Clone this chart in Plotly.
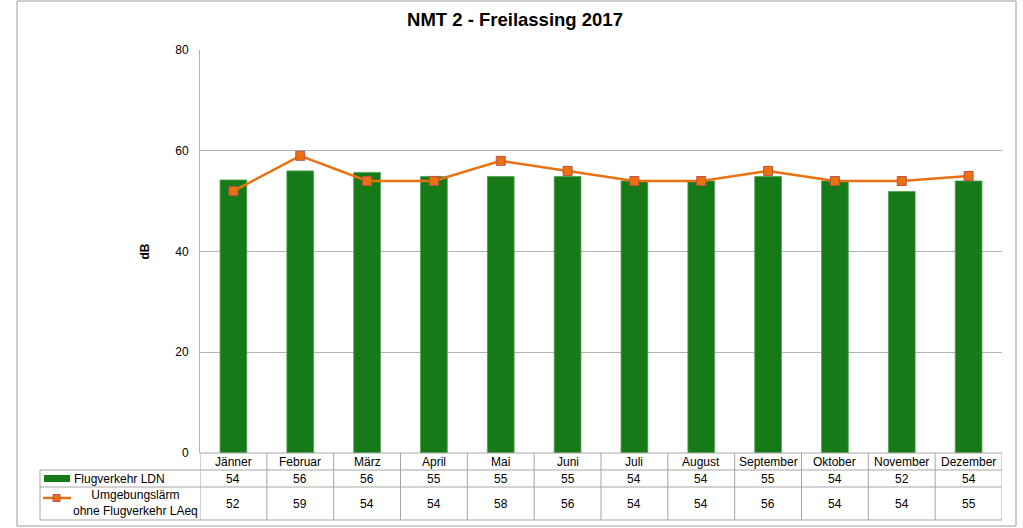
import plotly.graph_objects as go

months = ["Jänner", "Februar", "März", "April", "Mai", "Juni", "Juli",
          "August", "September", "Oktober", "November", "Dezember"]
flug_ldn = [54.2, 56.0, 55.7, 54.9, 54.9, 54.9, 54.0, 54.0, 54.9, 54.0, 51.9, 54.0]
flug_ldn_table = [54, 56, 56, 55, 55, 55, 54, 54, 55, 54, 52, 54]
umgebung = [52, 59, 54, 54, 58, 56, 54, 54, 56, 54, 54, 55]
y_ticks = [0, 20, 40, 60, 80]

W, H = 1023, 528
L, R, T, B = 200, 21, 50, 75
PW, PH = W - L - R, H - T - B

def px(x):
    return (x - L) / PW

def py(y):
    return (H - B - y) / PH

GREEN = "#157A17"
ORANGE = "#EA7110"
GRID = "#b3b3b3"
TBL = "#a6a6a6"
FONT = "Liberation Sans, Arial, sans-serif"

fig = go.Figure()
fig.add_trace(go.Bar(x=months, y=flug_ldn, marker=dict(color=GREEN, line=dict(color="#4fa04f", width=0.8)),
                     width=0.4, name="Flugverkehr LDN", showlegend=False))
fig.add_trace(go.Scatter(x=months, y=umgebung, mode="lines+markers",
                         line=dict(color=ORANGE, width=2.5),
                         marker=dict(symbol="square", size=9, color=ORANGE, line=dict(color="#c0504d", width=1)),
                         name="Umgebungslärm ohne Flugverkehr LAeq", showlegend=False))

shapes = []
n = len(months)
y470, y487, y520 = py(470), py(487), py(520)
for yy in (y470, y487, y520):
    shapes.append(dict(type="line", xref="paper", yref="paper", x0=px(40), x1=1, y0=yy, y1=yy,
                       line=dict(color=TBL, width=1)))
shapes.append(dict(type="line", xref="paper", yref="paper", x0=0, x1=1, y0=0, y1=0,
                   line=dict(color=TBL, width=1)))
for i in range(n + 1):
    shapes.append(dict(type="line", xref="x", yref="paper", x0=i - 0.5, x1=i - 0.5, y0=0, y1=y520,
                       line=dict(color=TBL, width=1)))
shapes.append(dict(type="line", xref="paper", yref="paper", x0=px(40), x1=px(40), y0=y470, y1=y520,
                   line=dict(color=TBL, width=1)))
shapes.append(dict(type="rect", xref="paper", yref="paper", x0=px(17), x1=px(1016), y0=py(1), y1=py(526),
                   line=dict(color="#9a9a9a", width=1), fillcolor="rgba(0,0,0,0)", layer="below"))
shapes.append(dict(type="rect", xref="paper", yref="paper", x0=px(44), x1=px(70), y0=py(482), y1=py(475),
                   line=dict(width=0), fillcolor=GREEN))
shapes.append(dict(type="line", xref="paper", yref="paper", x0=px(43), x1=px(71), y0=py(498), y1=py(498),
                   line=dict(color=ORANGE, width=2.5)))
shapes.append(dict(type="rect", xref="paper", yref="paper", x0=px(53), x1=px(60), y0=py(494.5), y1=py(501.5),
                   line=dict(color="#c0504d", width=1), fillcolor=ORANGE))

ann = []
tf = dict(family=FONT, size=12, color="#000000")
for i, m in enumerate(months):
    ann.append(dict(x=m, y=py(462), xref="x", yref="paper", text=m, showarrow=False, font=tf,
                    xanchor="center", yanchor="middle"))
    ann.append(dict(x=m, y=py(479), xref="x", yref="paper", text=str(flug_ldn_table[i]), showarrow=False, font=tf,
                    xanchor="center", yanchor="middle"))
    ann.append(dict(x=m, y=py(504), xref="x", yref="paper", text=str(umgebung[i]), showarrow=False, font=tf,
                    xanchor="center", yanchor="middle"))
ann.append(dict(x=px(72), y=py(479), xref="paper", yref="paper", text="Flugverkehr LDN", showarrow=False,
                xanchor="left", yanchor="middle", font=tf))
ann.append(dict(x=px(135), y=py(503.5), xref="paper", yref="paper", xanchor="center", yanchor="middle",
                text="Umgebungslärm<br>ohne Flugverkehr LAeq", showarrow=False, align="center", font=tf))
ann.append(dict(x=px(144), y=0.5, xref="paper", yref="paper", xanchor="center", yanchor="middle",
                text="<b>dB</b>", showarrow=False, textangle=-90,
                font=dict(family=FONT, size=12, color="#000")))

fig.update_layout(
    width=W, height=H,
    margin=dict(l=L, r=R, t=T, b=B),
    paper_bgcolor="white", plot_bgcolor="white",
    title=dict(text="<b>NMT 2 - Freilassing 2017</b>", x=515 / W, xanchor="center", y=1 - 20 / H, yanchor="middle",
               font=dict(family=FONT, size=18.5, color="#000")),
    xaxis=dict(showticklabels=False, showgrid=False, zeroline=False, showline=False, ticks="",
               range=[-0.5, n - 0.5]),
    yaxis=dict(range=[0, 80], tickvals=y_ticks, showgrid=True, gridcolor=GRID, gridwidth=1,
               zeroline=False, showline=True, linecolor=GRID, linewidth=1, ticks="",
               ticklabelstandoff=8, tickfont=dict(family=FONT, size=12, color="#000")),
    shapes=shapes, annotations=ann, bargap=0.6,
)
fig.write_html("out.html", config={"displayModeBar": False},
               post_script="document.body.style.margin='0';")
